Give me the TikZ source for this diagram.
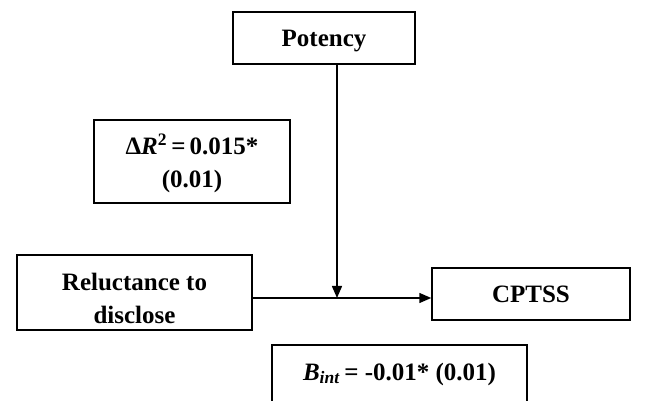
\documentclass[tikz,border=0pt]{standalone}
\usepackage{fontspec}
\setmainfont{Liberation Serif}
\usetikzlibrary{arrows.meta}
\begin{document}
\begin{tikzpicture}[x=1pt,y=1pt,
  box/.style={draw,line width=1.5pt,align=center,inner sep=0pt,
    font=\fontsize{25}{33}\selectfont\bfseries},
  txt/.style={align=center,inner sep=0pt,font=\fontsize{25}{33}\selectfont\bfseries},
  conn/.style={line width=1.5pt,-{Triangle[length=12pt,width=10pt]}}]
\useasboundingbox (0,0) rectangle (649,401);
\clip (0,0) rectangle (649,401);
\node[box,minimum width=182,minimum height=52] (pot) at (324,363) {};
\node[txt] (pottxt) at ([yshift=-3]pot.center) {Potency};
\node[box,minimum width=196,minimum height=83] (dr) at (192,239.5) {};
\node[txt] (drtxt) at ([yshift=-2]dr.center) {Δ\textit{R}\textsuperscript{2}\,=\,0.015*\\(0.01)};
\node[box,minimum width=235,minimum height=75] (rel) at (134.5,108.5) {};
\node[txt] (reltxt) at ([yshift=-6]rel.center) {Reluctance to\\disclose};
\node[box,minimum width=198,minimum height=52] (cpt) at (531,107) {CPTSS};
\node[box,minimum width=255,minimum height=58] (bint) at (399.5,27) {\textit{B}\textsubscript{\textit{int}}\,= -0.01* (0.01)};
\coordinate (j) at (337,103);
\draw[conn] (pot.south -| j) -- (j);
\draw[conn] (rel.east |- j) -- (cpt.west |- j);
\end{tikzpicture}
\end{document}
